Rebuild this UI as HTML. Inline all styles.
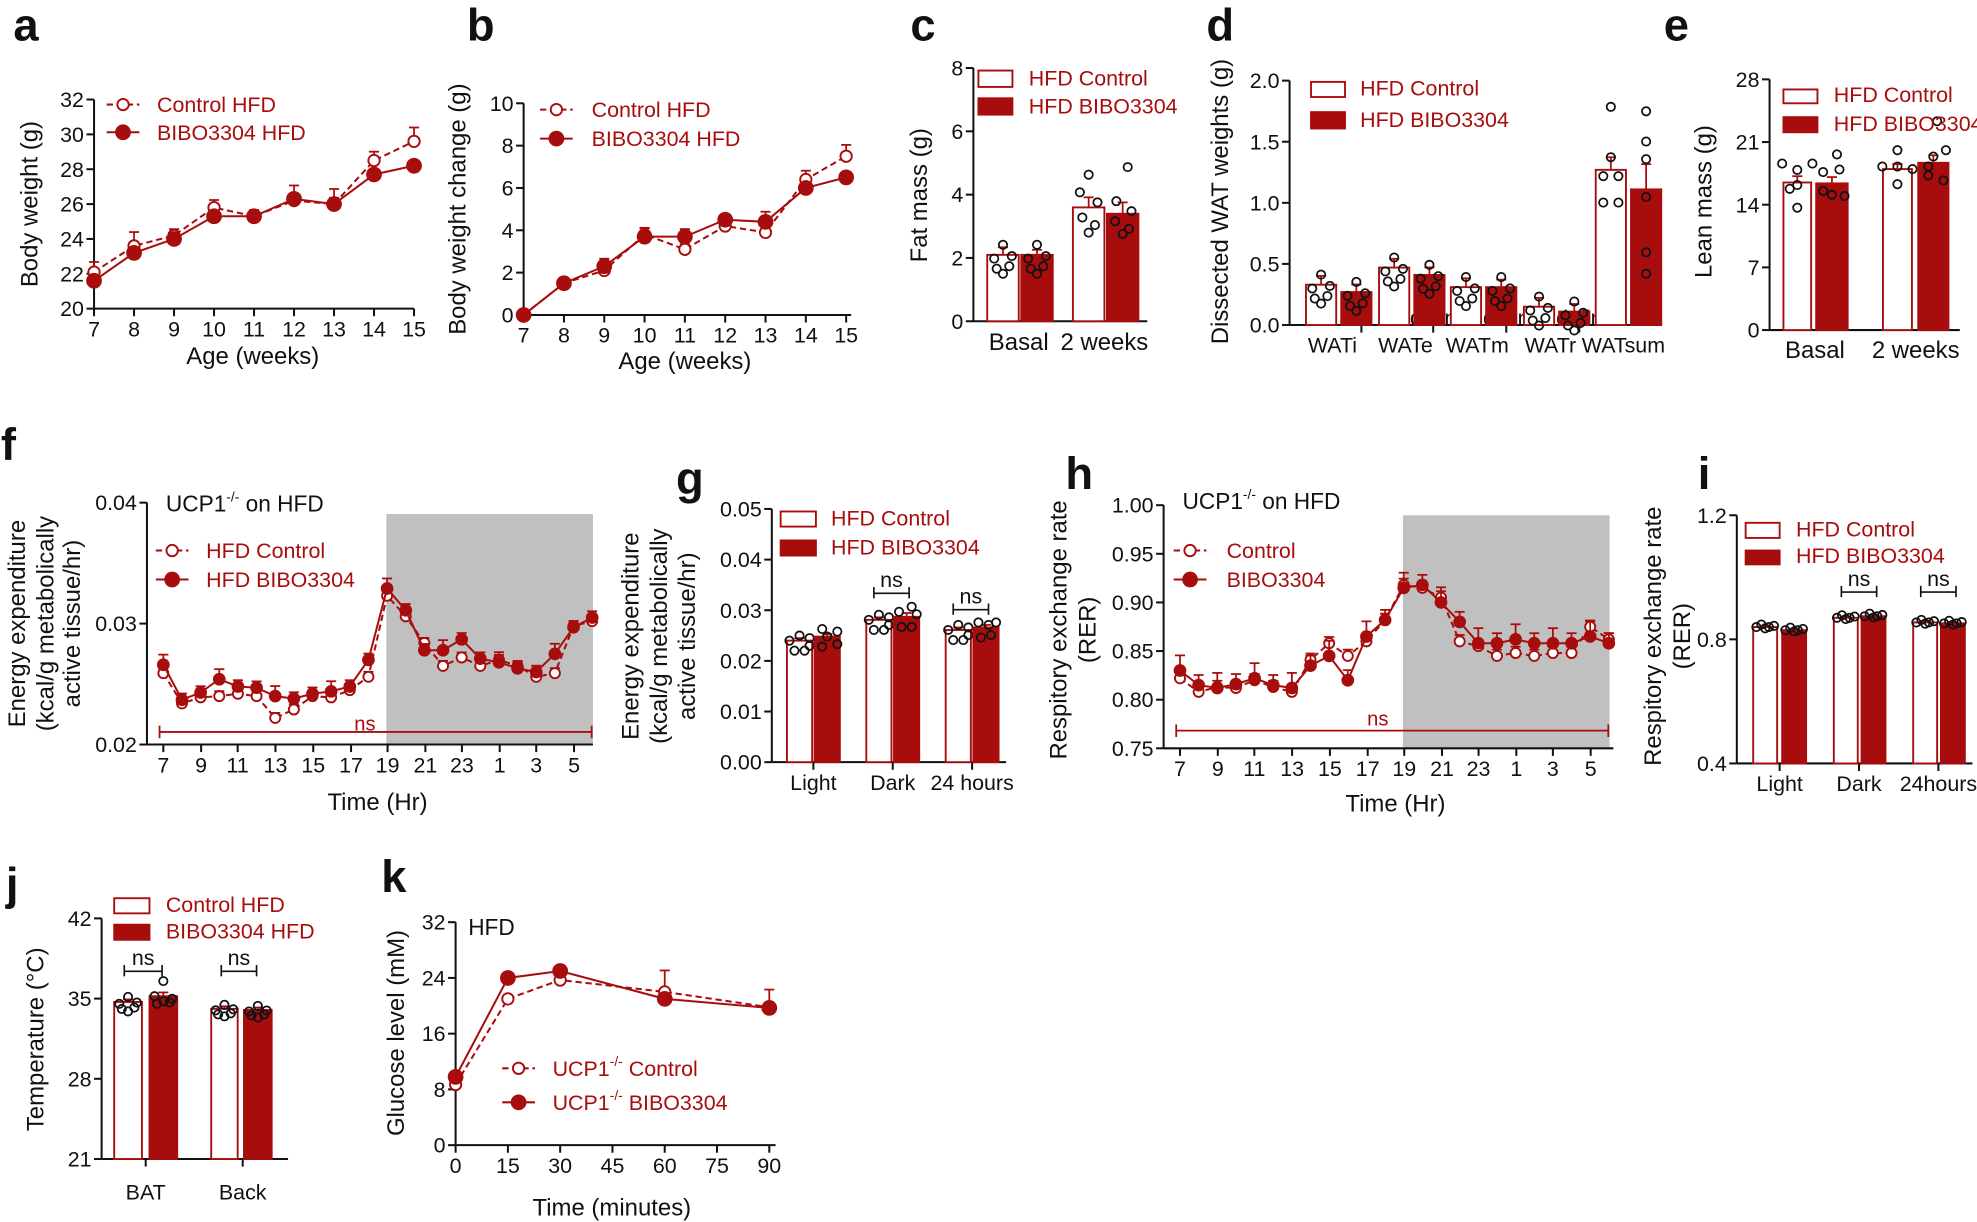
<!DOCTYPE html>
<html><head><meta charset="utf-8"><style>
html,body{margin:0;padding:0;background:#fff}
svg{display:block}
text{font-family:"Liberation Sans",Arial,sans-serif;}
</style></head><body>
<svg id="s" width="1977" height="1222" viewBox="0 0 1568 970" xmlns="http://www.w3.org/2000/svg"></svg>
<script>
const S=document.getElementById('s');const R='#a80d0d';
let h='';
function T(x,y,t,o={}){h+=`<text x="${x}" y="${y}" font-size="${o.fs||17}" fill="${o.c||'#111'}" text-anchor="${o.a||'start'}" ${o.b?'font-weight="bold"':''} ${o.r?`transform="rotate(-90 ${x} ${y})"`:''}>${t}</text>`;}
function L(x1,y1,x2,y2,c='#111',w=1.6,d=''){h+=`<line x1="${x1}" y1="${y1}" x2="${x2}" y2="${y2}" stroke="${c}" stroke-width="${w}" ${d?`stroke-dasharray="${d}"`:''}/>`;}
function C(x,y,r,f,s=R,w=1.5){h+=`<circle cx="${x}" cy="${y}" r="${r}" fill="${f}" stroke="${s}" stroke-width="${w}"/>`;}
function Rc(x,y,w,hh,f,s=R){h+=`<rect x="${x}" y="${y}" width="${w}" height="${hh}" fill="${f}" stroke="${s}" stroke-width="1.5"/>`;}
function yaxis(x,y0,y1,ticks,labels){L(x,y0,x,y1);ticks.forEach((t,i)=>{const y=y0+(y1-y0)*i/(ticks.length-1);L(x-6,y,x,y);T(x-8,y+6,labels[i],{a:'end',fs:17});});}
function xaxis(y,x0,x1,pos,labels,dy=22){L(x0,y,x1,y);pos.forEach((p,i)=>{L(p,y,p,y+6);T(p,y+dy,labels[i],{a:'middle',fs:17});});}
function line(xs,ys,dash,open,err,rr){let p=xs.map((x,i)=>`${x},${ys[i]}`).join(' ');h+=`<polyline points="${p}" fill="none" stroke="${R}" stroke-width="1.6" ${dash?'stroke-dasharray="5,3"':''}/>`;xs.forEach((x,i)=>{if(err){L(x,ys[i],x,ys[i]-err[i],R,1.4);L(x-4,ys[i]-err[i],x+4,ys[i]-err[i],R,1.4);}C(x,ys[i],rr||(open?4.5:5.5),open?'#fff':R);});}
function leg(x,y,dash,open,txt,x2){L(x,y,x+26,y,R,1.6,dash?'5,3':'');C(x+13,y,open?4.5:5.5,open?'#fff':R);T(x2,y+6,txt,{c:R});}
function legb(x,y,w,hh,f,txt,tx){Rc(x,y,w,hh,f);T(tx,y+hh-1,txt,{c:R});}
function bar(x,w,yb,yt,f,err,dots){Rc(x,yt,w,yb-yt,f);L(x+w/2,yt,x+w/2,yt-err,R,1.4);L(x+w/2-4,yt-err,x+w/2+4,yt-err,R,1.4);(dots||[]).forEach(d=>C(x+w/2+d[0],yt+d[1],3.3,'none','#111',1.4));}
function ns(x1,x2,y){L(x1,y,x2,y,'#111',1.3);L(x1,y-5,x1,y+4,'#111',1.3);L(x2,y-5,x2,y+4,'#111',1.3);T((x1+x2)/2,y-5,'ns',{a:'middle',fs:17});}
const D1=[[-7,3],[0,-8],[7,1],[-5,11],[5,9],[0,15]];
[['a',10],['b',370],['c',722],['d',957],['e',1320]].forEach(a=>T(a[1],32,a[0],{fs:36,b:1}));
T(0,365,'f',{fs:36,b:1});T(536,392,'g',{fs:36,b:1});T(845,388,'h',{fs:36,b:1});T(1347,388,'i',{fs:36,b:1});T(4,714,'j',{fs:36,b:1});T(302,708,'k',{fs:36,b:1});
// a
yaxis(74,245,79,[0,1,2,3,4,5,6],['20','22','24','26','28','30','32']);
let ax=[...Array(9)].map((_,i)=>74+i*31.75);xaxis(245,74,328,ax,['7','8','9','10','11','12','13','14','15']);
T(200,289,'Age (weeks)',{a:'middle',fs:19});T(29,162,'Body weight (g)',{r:1,a:'middle',fs:19});
let fa=v=>245-(v-20)*166/12;
line(ax,[22.1,23.6,24.2,25.8,25.3,26.2,26.0,28.5,29.6].map(fa),1,1,[8,11,5,6,5,12,12,7,11]);
line(ax,[21.6,23.2,24.0,25.3,25.3,26.3,26.0,27.7,28.2].map(fa),0,0,[4,4,4,4,4,4,5,4,4]);
leg(84,83,1,1,'Control HFD',124);leg(84,105,0,0,'BIBO3304 HFD',124);
// b
yaxis(415,250,82,[0,1,2,3,4,5],['0','2','4','6','8','10']);
let bx=[...Array(9)].map((_,i)=>415+i*32);xaxis(250,415,675,bx,['7','8','9','10','11','12','13','14','15']);
T(543,293,'Age (weeks)',{a:'middle',fs:19});T(369,166,'Body weight change (g)',{r:1,a:'middle',fs:19});
let fb=v=>250-v*16.8;
line(bx,[0,1.5,2.1,3.8,3.1,4.2,3.9,6.4,7.5].map(fb),1,1,[0,3,5,5,4,4,6,7,9]);
line(bx,[0,1.5,2.3,3.7,3.7,4.5,4.4,6.0,6.5].map(fb),0,0,[0,3,6,7,6,4,8,4,4]);
leg(428,87,1,1,'Control HFD',469);leg(428,110,0,0,'BIBO3304 HFD',469);
// c
yaxis(772,255,54,[0,1,2,3,4],['0','2','4','6','8']);xaxis(255,772,910,[],[]);
T(808,278,'Basal',{a:'middle',fs:19});T(876,278,'2 weeks',{a:'middle',fs:19});T(735,155,'Fat mass (g)',{r:1,a:'middle',fs:19});
let fc=v=>255-v*25.1;
bar(783,25,255,fc(2.1),'#fff',6,D1);bar(810,25,255,fc(2.1),R,4,D1);bar(851,25,255,fc(3.6),'#fff',8,[[0,-26],[-7,-12],[7,-4],[-5,8],[5,14],[0,20]]);bar(878,25,255,fc(3.4),R,9,[[4,-37],[-5,-10],[7,-2],[-6,6],[0,16],[5,12]]);
legb(776,56,27,13,'#fff','HFD Control',816);legb(776,78,27,13,R,'HFD BIBO3304',816);
// d
yaxis(1023,258,64,[0,1,2,3,4],['0.0','0.5','1.0','1.5','2.0']);
xaxis(258,1023,1318,[1080,1137,1195,1253],[''],0);
[['WATi',1057],['WATe',1115],['WATm',1172],['WATr',1230],['WATsum',1288]].forEach(a=>T(a[1],280,a[0],{a:'middle',fs:17}));
T(974,160,'Dissected WAT weights (g)',{r:1,a:'middle',fs:19});
let fd=v=>258-v*97;
const cv=[.33,.47,.31,.15,1.27],bv=[.27,.41,.31,.11,1.11],gx=[1036,1094,1151,1209,1266];
gx.forEach((x,i)=>{bar(x,24,258,fd(cv[i]),'#fff',i==4?10:7,i==4?[[0,-50],[0,-10],[-6,5],[6,5],[-6,26],[6,26]]:D1);bar(x+28,24,258,fd(bv[i]),R,i==4?20:6,i==4?[[0,-62],[0,-38],[0,-24],[0,6],[0,50],[0,67]]:D1);});
legb(1040,65,27,12,'#fff','HFD Control',1079);legb(1040,89,27,13,R,'HFD BIBO3304',1079);
// e
yaxis(1404,262,63,[0,1,2,3,4],['0','7','14','21','28']);xaxis(262,1404,1555,[],[]);
T(1440,284,'Basal',{a:'middle',fs:19});T(1520,284,'2 weeks',{a:'middle',fs:19});T(1358,160,'Lean mass (g)',{r:1,a:'middle',fs:19});
let fe=v=>262-v*7.1;
const DE=[[-12,-15],[0,-10],[12,-15],[0,2],[0,20],[-6,5]];
bar(1415,22,262,fe(16.5),'#fff',5,DE);bar(1441,25,262,fe(16.4),R,5,[[4,-23],[-7,-9],[6,-11],[-7,6],[0,9],[10,10]]);bar(1494,23,262,fe(18.0),'#fff',4,[[0,-15],[-12,-2],[0,-2],[12,0],[0,12]]);bar(1522,24,262,fe(18.7),R,6,[[3,-33],[0,-5],[10,-10],[-4,3],[8,14],[-4,10]]);
legb(1415,71,27,11,'#fff','HFD Control',1455);legb(1415,93,27,12,R,'HFD BIBO3304',1455);
// f
h+=`<rect x="306" y="408" width="164" height="183" fill="#c0c0c0"/>`;
yaxis(116,591,399,[0,1,2],['0.02','0.03','0.04']);
let fxl=[129,159,188,218,248,278,307,337,366,396,425,455];
xaxis(591,116,470,fxl,['7','9','11','13','15','17','19','21','23','1','3','5']);
T(299,643,'Time (Hr)',{a:'middle',fs:19});
T(19,495,'Energy expenditure',{r:1,a:'middle',fs:19});T(42,495,'(kcal/g metabolically',{r:1,a:'middle',fs:19});T(63,495,'active tissue/hr)',{r:1,a:'middle',fs:19});
let fx=[...Array(24)].map((_,i)=>129+i*14.8);let ff=v=>591-(v-0.02)*9600;
line(fx,[.0259,.0234,.0239,.0240,.0242,.0240,.0222,.0229,.0240,.0239,.0245,.0256,.0323,.0306,.0284,.0265,.0272,.0265,.0270,.0265,.0256,.0259,.0298,.0302].map(ff),1,1,fx.map(_=>4),4);
line(fx,[.0266,.0237,.0243,.0254,.0248,.0247,.0240,.0238,.0242,.0244,.0248,.0270,.0329,.0311,.0278,.0278,.0287,.0271,.0268,.0263,.0260,.0275,.0297,.0305].map(ff),0,0,fx.map((_,i)=>i%3==0?8:5),4.3);
L(126,581,469,581,R,1.4);L(126,576,126,586,R,1.4);L(469,576,469,586,R,1.4);T(289,580,'ns',{a:'middle',fs:16,c:R});
T(131,406,'UCP1<tspan font-size="11" dy="-8">-/-</tspan><tspan dy="8"> on HFD</tspan>',{fs:18});
leg(123,437,1,1,'HFD Control',163);leg(123,460,0,0,'HFD BIBO3304',163);
// g
yaxis(612,605,404,[0,1,2,3,4,5],['0.00','0.01','0.02','0.03','0.04','0.05']);
xaxis(605,612,798,[645,708,771],['Light','Dark','24 hours']);
T(506,505,'Energy expenditure',{r:1,a:'middle',fs:19});T(529,505,'(kcal/g metabolically',{r:1,a:'middle',fs:19});T(551,505,'active tissue/hr)',{r:1,a:'middle',fs:19});
let fg=v=>605-v*4020;const D2=[[-8,0],[0,-4],[8,-2],[-4,8],[4,8],[8,4]];
bar(624,20,605,fg(.0240),'#fff',2,D2);bar(646,20,605,fg(.0248),R,2,[[-4,-6],[8,-4],[-4,8],[8,6],[0,0]]);
bar(687,20,605,fg(.0281),'#fff',2,D2);bar(709,20,605,fg(.0287),R,3,[[-6,-4],[4,-8],[8,-2],[-4,8],[4,8]]);
bar(750,20,605,fg(.0261),'#fff',2,D2);bar(772,20,605,fg(.0266),R,2,[[-6,-4],[2,-2],[8,-4],[-4,8],[4,6]]);
ns(693,721,471);ns(756,784,484);
legb(619,406,28,12,'#fff','HFD Control',659);legb(619,429,28,12,R,'HFD BIBO3304',659);
// h
h+=`<rect x="1113" y="409" width="164" height="185" fill="#c0c0c0"/>`;
yaxis(923,594,401,[0,1,2,3,4,5],['0.75','0.80','0.85','0.90','0.95','1.00']);
let hxl=fxl.map(x=>x+807);
xaxis(594,923,1280,hxl,['7','9','11','13','15','17','19','21','23','1','3','5']);
T(1107,644,'Time (Hr)',{a:'middle',fs:19});T(846,500,'Respitory exchange rate',{r:1,a:'middle',fs:19});T(869,500,'(RER)',{r:1,a:'middle',fs:19});
let hx=fx.map(x=>x+807);let fh=v=>594-(v-0.75)*772;
line(hx,[.822,.808,.813,.812,.820,.813,.808,.841,.858,.845,.860,.882,.918,.915,.905,.860,.855,.845,.848,.845,.848,.848,.875,.862].map(fh),1,1,hx.map(_=>5),4);
line(hx,[.830,.815,.812,.816,.822,.815,.812,.835,.845,.820,.865,.882,.915,.918,.900,.880,.858,.858,.862,.858,.858,.858,.865,.858].map(fh),0,0,hx.map((_,i)=>i%2?8:12),4.3);
L(933,580,1276,580,R,1.4);L(933,575,933,585,R,1.4);L(1276,575,1276,585,R,1.4);T(1093,576,'ns',{a:'middle',fs:16,c:R});
T(938,404,'UCP1<tspan font-size="11" dy="-8">-/-</tspan><tspan dy="8"> on HFD</tspan>',{fs:18});
leg(931,437,1,1,'Control',973);leg(931,460,0,0,'BIBO3304',973);
// i
yaxis(1378,606,409,[0,1,2],['0.4','0.8','1.2']);
xaxis(606,1378,1565,[1412,1475,1538],['Light','Dark','24hours']);
T(1318,505,'Respitory exchange rate',{r:1,a:'middle',fs:19});T(1341,505,'(RER)',{r:1,a:'middle',fs:19});
let fi=v=>606-(v-.4)*246;const D3=[[-7,0],[-3,-2],[3,0],[7,-1],[0,1]];
bar(1391,19,606,fi(.84),'#fff',1,D3);bar(1414,19,606,fi(.83),R,1,D3);bar(1455,19,606,fi(.87),'#fff',1,D3);bar(1477,19,606,fi(.875),R,1,D3);bar(1518,19,606,fi(.855),'#fff',1,D3);bar(1540,19,606,fi(.852),R,1,D3);
ns(1461,1489,470);ns(1524,1552,470);
legb(1385,415,27,12,'#fff','HFD Control',1425);legb(1385,437,27,11,R,'HFD BIBO3304',1425);
// j
yaxis(80,920,729,[0,1,2,3],['21','28','35','42']);xaxis(920,80,228,[115,192],['BAT','Back'],32);
T(34,825,'Temperature (°C)',{r:1,a:'middle',fs:19});
let fj=v=>920-(v-21)*9.1;
bar(90,22,920,fj(34.7),'#fff',2,D1.map(d=>[d[0],d[1]*0.5]));bar(118,22,920,fj(35.2),R,3,[[0,-12],[-7,0],[7,2],[-5,6],[5,5],[0,4]]);
bar(167,21,920,fj(34.1),'#fff',2,D1.map(d=>[d[0],d[1]*0.4]));bar(193,22,920,fj(34.0),R,2,D1.map(d=>[d[0],d[1]*0.4]));
ns(98,128,771);ns(175,203,771);
legb(90,713,28,12,'#fff','Control HFD',131);legb(90,734,28,12,R,'BIBO3304 HFD',131);
// k
yaxis(361,909,732,[0,1,2,3,4],['0','8','16','24','32']);
let kx=[0,1,2,3,4,5,6].map(i=>361+i*41.5);xaxis(909,361,615,kx,['0','15','30','45','60','75','90']);
T(485,965,'Time (minutes)',{a:'middle',fs:19});T(320,820,'Glucose level (mM)',{r:1,a:'middle',fs:19});
let fk=v=>909-v*5.53;let k5=[kx[0],kx[1],kx[2],kx[4],kx[6]];
line(k5,[8.7,21,23.7,22,19.8].map(fk),1,1,[1,2,2,17,14]);
line(k5,[9.8,24,25,21,19.7].map(fk),0,0,[1,2,3,4,2]);
T(371,742,'HFD',{fs:18});
leg(398,848,1,1,'UCP1<tspan font-size="11" dy="-8">-/-</tspan><tspan dy="8"> Control</tspan>',438);
leg(398,875,0,0,'UCP1<tspan font-size="11" dy="-8">-/-</tspan><tspan dy="8"> BIBO3304</tspan>',438);
S.innerHTML=h;
</script>
</body></html>
